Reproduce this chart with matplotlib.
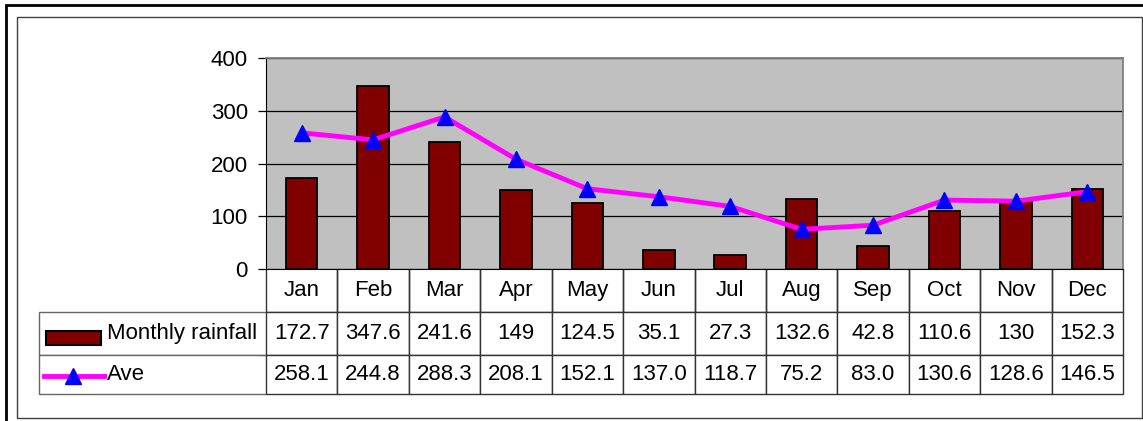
import matplotlib
matplotlib.use('Agg')
import matplotlib.pyplot as plt
from matplotlib.table import Table
from matplotlib.patches import Rectangle
from matplotlib.lines import Line2D

plt.rcParams['font.family'] = ['Liberation Sans', 'DejaVu Sans']

months = ['Jan', 'Feb', 'Mar', 'Apr', 'May', 'Jun', 'Jul', 'Aug', 'Sep', 'Oct', 'Nov', 'Dec']
rainfall = [172.7, 347.6, 241.6, 149, 124.5, 35.1, 27.3, 132.6, 42.8, 110.6, 130, 152.3]
ave = [258.1, 244.8, 288.3, 208.1, 152.1, 137.0, 118.7, 75.2, 83.0, 130.6, 128.6, 146.5]
series_names = ['Monthly rainfall', 'Ave']

W, H = 1143, 421
FS = 16

def fx(px):
    return px / W

def fy(py):
    return 1 - py / H

fig = plt.figure(figsize=(W / 100, H / 100), dpi=100)
fig.patch.set_facecolor('white')

# zone du graphique (pixels de l'image de référence)
left, right, top, bottom = 266, 1123, 58, 269
ax = fig.add_axes([fx(left), fy(bottom), (right - left) / W, (bottom - top) / H])
ax.set_facecolor('#C0C0C0')

x = list(range(len(months)))
ax.bar(x, rainfall, width=0.44, color='#800000', edgecolor='black', linewidth=1.3, zorder=2)
ax.plot(x, ave, color='#FF00FF', lw=3.5, marker='^', ms=11,
        mfc='#0000FF', mec='#0000FF', zorder=3, clip_on=False)

ax.set_xlim(-0.5, 11.5)
ax.set_ylim(0, 400)
ax.set_yticks(range(0, 401, 100))
ax.set_xticks([])
ax.yaxis.grid(True, color='black', lw=0.9)
ax.set_axisbelow(True)
ax.tick_params(axis='y', length=6, width=0.9, pad=7, labelsize=FS)
ax.spines['top'].set_color('#808080')
ax.spines['right'].set_color('#808080')
ax.spines['top'].set_linewidth(1.3)
ax.spines['right'].set_linewidth(1.3)
ax.spines['left'].set_color('black')
ax.spines['bottom'].set_color('black')

# tableau de données sous le graphique
tab_left, tab_bottom = 39, 394
row_h = [43, 43, 39]
ax_w, ax_h = right - left, bottom - top
# le bbox ne couvre que les colonnes des mois, la colonne des libellés (-1) est placée à gauche
bbox = [0, -(tab_bottom - bottom) / ax_h, 1, (tab_bottom - bottom) / ax_h]
tbl = Table(ax, bbox=bbox)
tbl.auto_set_font_size(False)
leg_w = (left - tab_left) / ax_w
col_w = 1 / len(months)

rows = [months,
        ['{:g}'.format(v) for v in rainfall],
        ['{:.1f}'.format(v) for v in ave]]
labels = [''] + series_names
edge = '#333333'
for r in range(3):
    h = row_h[r] / ax_h
    c = tbl.add_cell(r, -1, leg_w, h, text=labels[r], loc='left',
                     edgecolor='#666666', facecolor='white')
    c.PAD = (107 - tab_left) / (left - tab_left)
    c.get_text().set_fontsize(FS)
    c.visible_edges = '' if r == 0 else 'LTB'
    for j, t in enumerate(rows[r]):
        c = tbl.add_cell(r, j, col_w, h, text=t, loc='center',
                         edgecolor=edge, facecolor='white')
        c.get_text().set_fontsize(FS)
        c.visible_edges = 'LRB' if r == 0 else 'closed'
ax.add_table(tbl)

# symboles de légende dans le tableau
fig.add_artist(Rectangle((fx(46), fy(345)), (101 - 46) / W, (345 - 331) / H,
                         transform=fig.transFigure, facecolor='#800000',
                         edgecolor='black', lw=1.5, zorder=5))
fig.add_artist(Line2D([fx(44), fx(104)], [fy(376), fy(376)], transform=fig.transFigure,
                      color='#FF00FF', lw=3.5, zorder=5))
fig.add_artist(Line2D([fx(73)], [fy(376)], transform=fig.transFigure, marker='^',
                      ms=11, mfc='#0000FF', mec='#0000FF', lw=0, zorder=6))

# cadres
fig.add_artist(Rectangle((fx(6), fy(430)), (1160 - 6) / W, (430 - 5) / H,
                         transform=fig.transFigure, fill=False, edgecolor='black', lw=2))
fig.add_artist(Rectangle((fx(17), fy(418)), (1142 - 17) / W, (418 - 17) / H,
                         transform=fig.transFigure, fill=False, edgecolor='#404040', lw=1))

fig.savefig('out.png', dpi=100)
plt.close(fig)
